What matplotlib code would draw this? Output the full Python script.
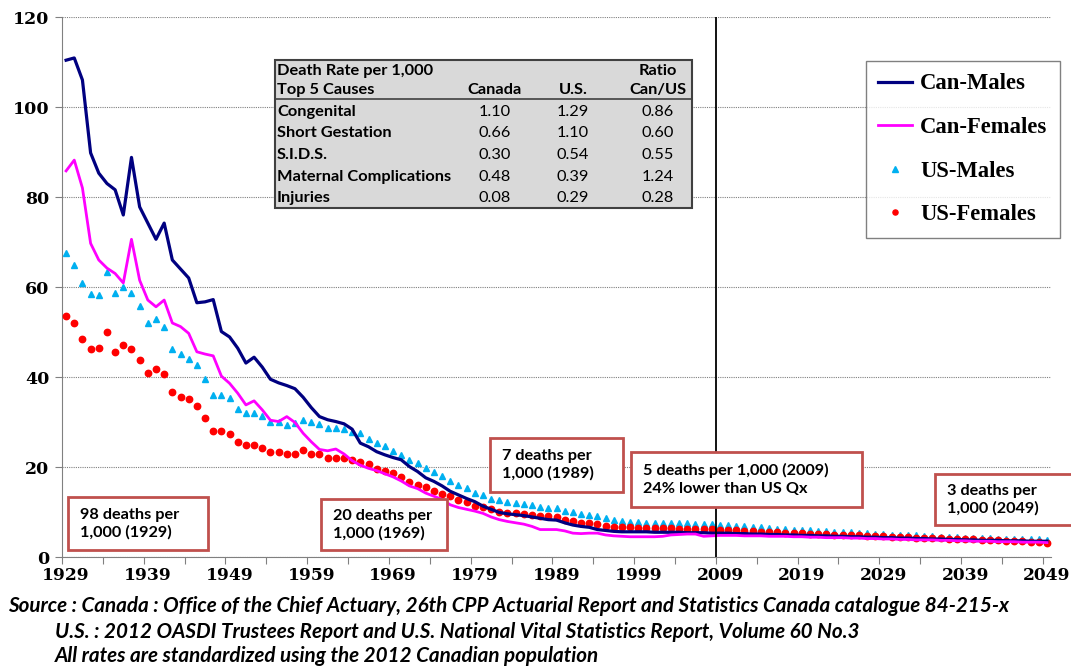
import numpy as np
import matplotlib
matplotlib.use("Agg")
import matplotlib.pyplot as plt
from matplotlib.patches import Rectangle
from matplotlib import font_manager

W, H = 1071, 667

years = list(range(1929, 2050))

can_males = [110.4, 110.9, 106.0, 89.8, 85.3, 83.0, 81.6, 76.0, 88.8, 77.8,
             74.2, 70.6, 74.2, 66.0, 64.0, 62.0, 56.5, 56.7, 57.2, 50.1,
             48.9, 46.4, 43.1, 44.4, 42.2, 39.5, 38.7, 38.1, 37.4, 35.5,
             33.2, 31.2, 30.5, 30.1, 29.6, 28.4, 25.3, 24.5, 23.4, 22.7,
             22.1, 21.6, 20.1, 19.0, 17.6, 16.8, 15.8, 14.6, 13.8, 13.0,
             12.3, 11.3, 10.6, 9.9, 9.6, 9.4, 9.2, 8.9, 8.6, 8.3,
             8.2, 7.6, 7.1, 6.8, 6.6, 6.1, 5.9, 5.7, 5.6, 5.6,
             5.6, 5.6, 5.5, 5.5, 5.5, 5.5, 5.4, 5.4, 5.4, 5.3,
             5.3, 5.3, 5.2, 5.2, 5.1, 5.1, 5.0, 5.0, 4.9, 4.9,
             4.8, 4.8, 4.7, 4.7, 4.6, 4.6, 4.5, 4.5, 4.4, 4.4,
             4.3, 4.3, 4.2, 4.2, 4.1, 4.1, 4.0, 4.0, 3.9, 3.9,
             3.8, 3.8, 3.7, 3.7, 3.7, 3.6, 3.6, 3.6, 3.5, 3.5,
             3.5]

can_females = [85.8, 88.2, 82.0, 69.7, 66.0, 64.2, 63.0, 60.9, 70.6, 61.5,
               57.1, 55.6, 57.1, 52.0, 51.2, 49.7, 45.6, 45.1, 44.7, 40.2,
               38.6, 36.4, 33.8, 34.7, 32.7, 30.4, 30.1, 31.2, 29.9, 27.5,
               25.6, 23.9, 23.6, 24.0, 22.9, 21.4, 20.4, 19.7, 19.2, 18.5,
               17.8, 16.9, 15.8, 15.2, 14.2, 13.5, 12.8, 11.6, 11.0, 10.6,
               10.2, 9.7, 8.9, 8.3, 7.9, 7.6, 7.3, 6.8, 6.1, 6.1,
               6.1, 5.8, 5.3, 5.2, 5.3, 5.3, 4.9, 4.7, 4.6, 4.5,
               4.5, 4.5, 4.5, 4.6, 4.9, 5.0, 5.1, 5.1, 4.6, 4.7,
               4.8, 4.8, 4.8, 4.7, 4.7, 4.7, 4.6, 4.6, 4.6, 4.5,
               4.5, 4.4, 4.4, 4.3, 4.3, 4.3, 4.2, 4.2, 4.1, 4.1,
               4.0, 4.0, 3.9, 3.9, 3.8, 3.8, 3.8, 3.7, 3.7, 3.6,
               3.6, 3.5, 3.5, 3.5, 3.4, 3.4, 3.4, 3.3, 3.3, 3.3,
               3.2]

us_males = [67.5, 65.0, 61.0, 58.4, 58.2, 63.4, 58.6, 60.1, 58.6, 55.8,
            51.9, 53.0, 51.2, 46.2, 45.1, 44.1, 42.7, 39.6, 36.0, 36.0,
            35.3, 33.0, 32.1, 32.1, 31.3, 30.1, 29.9, 29.3, 29.7, 30.4,
            29.9, 29.5, 28.6, 28.6, 28.5, 27.8, 27.5, 26.2, 25.3, 24.6,
            23.5, 22.6, 21.5, 20.8, 19.8, 18.8, 17.9, 16.9, 15.9, 15.3,
            14.3, 13.7, 13.0, 12.6, 12.2, 11.9, 11.8, 11.5, 11.2, 11.0,
            10.8, 10.3, 10.0, 9.6, 9.4, 9.1, 8.6, 8.2, 7.9, 7.8,
            7.7, 7.6, 7.6, 7.6, 7.5, 7.5, 7.5, 7.4, 7.4, 7.3,
            7.2, 7.1, 6.9, 6.8, 6.7, 6.6, 6.5, 6.3, 6.2, 6.1,
            6.0, 5.9, 5.8, 5.7, 5.6, 5.6, 5.5, 5.4, 5.3, 5.2,
            5.1, 5.0, 4.9, 4.9, 4.8, 4.7, 4.6, 4.5, 4.5, 4.4,
            4.3, 4.3, 4.2, 4.2, 4.1, 4.1, 4.0, 4.0, 3.9, 3.9,
            3.8]

us_females = [53.6, 51.9, 48.4, 46.3, 46.4, 50.1, 45.6, 47.1, 46.2, 43.8,
              40.8, 41.7, 40.6, 36.7, 35.5, 35.2, 33.6, 31.0, 28.0, 28.0,
              27.4, 25.5, 24.9, 25.0, 24.3, 23.3, 23.3, 22.8, 23.0, 23.8,
              23.0, 22.8, 22.1, 22.1, 21.9, 21.6, 21.2, 20.6, 19.6, 19.1,
              18.6, 17.7, 16.7, 16.0, 15.5, 14.7, 14.1, 13.5, 12.7, 12.3,
              11.4, 11.1, 10.6, 10.1, 9.8, 9.7, 9.6, 9.3, 9.1, 9.1,
              9.0, 8.3, 7.9, 7.6, 7.5, 7.4, 6.9, 6.7, 6.6, 6.6,
              6.5, 6.4, 6.4, 6.4, 6.4, 6.3, 6.3, 6.3, 6.2, 6.2,
              6.1, 6.0, 5.9, 5.8, 5.7, 5.6, 5.6, 5.5, 5.4, 5.3,
              5.3, 5.2, 5.1, 5.1, 5.0, 4.9, 4.9, 4.8, 4.7, 4.7,
              4.6, 4.5, 4.5, 4.4, 4.3, 4.3, 4.2, 4.2, 4.1, 4.0,
              4.0, 3.9, 3.8, 3.8, 3.7, 3.6, 3.6, 3.5, 3.4, 3.3,
              3.2]

label_years = [1929, 1939, 1949, 1959, 1969, 1979, 1989, 1999, 2009, 2019, 2029, 2039, 2049]
y_ticks = [0, 20, 40, 60, 80, 100, 120]

# inset table
causes = ["Congenital", "Short Gestation", "S.I.D.S.", "Maternal Complications", "Injuries"]
canada_rate = ["1.10", "0.66", "0.30", "0.48", "0.08"]
us_rate = ["1.29", "1.10", "0.54", "0.39", "0.29"]
ratio = ["0.86", "0.60", "0.55", "1.24", "0.28"]

notes = [
    ("98 deaths per\n1,000 (1929)", (68, 497, 208, 550)),
    ("20 deaths per\n1,000 (1969)", (321, 499, 447, 550)),
    ("7 deaths per\n1,000 (1989)", (490, 438, 623, 492)),
    ("5 deaths per 1,000 (2009)\n24% lower than US Qx", (631, 452, 862, 507)),
    ("3 deaths per\n1,000 (2049)", (935, 474, 1080, 525)),
]

source_lines = [
    "Source : Canada : Office of the Chief Actuary, 26th CPP Actuarial Report and Statistics Canada catalogue 84-215-x",
    "U.S. : 2012 OASDI Trustees Report and U.S. National Vital Statistics Report, Volume 60 No.3",
    "All rates are standardized using the 2012 Canadian population",
]

names = {f.name for f in font_manager.fontManager.ttflist}
serif = "Liberation Serif" if "Liberation Serif" in names else "DejaVu Serif"
tickfont = "DejaVu Serif"
sans = "Lato" if "Lato" in names else "DejaVu Sans"


def fx(x):
    return x / W


def fy(y):
    return 1 - y / H


fig = plt.figure(figsize=(W / 100, H / 100), dpi=100)
ax = fig.add_axes([fx(62), fy(557), fx(1051) - fx(62), fy(17) - fy(557)])

ax.plot(years, can_males, color="#000080", lw=2.3, label="Can-Males", zorder=4)
ax.plot(years, can_females, color="#ff00ff", lw=2.0, label="Can-Females", zorder=4)
ax.plot(years, us_males, ls="none", marker="^", ms=5, color="#00b0f0", label="US-Males", zorder=3)
ax.plot(years, us_females, ls="none", marker="o", ms=4.6, color="#ff0000", label="US-Females", zorder=3)

ax.axvline(2008.5, color="black", lw=1.3, zorder=5)

ax.set_xlim(1928.5, 2049.5)
ax.set_ylim(0, 120)
ax.set_yticks(y_ticks)
ax.set_yticklabels([str(v) for v in y_ticks], fontfamily=tickfont, fontweight="bold", fontsize=12.5)
ax.set_xticks(np.arange(1928.5, 2049, 5))
ax.set_xticklabels([])
ax.set_xticks(label_years, minor=True)
ax.set_xticklabels([str(v) for v in label_years], minor=True,
                   fontfamily=tickfont, fontweight="bold", fontsize=12.3)
ax.tick_params(axis="x", which="major", direction="out", length=5, color="#808080")
ax.tick_params(axis="x", which="minor", length=0, pad=7)
ax.tick_params(axis="y", direction="out", length=5, color="#808080", pad=4)

ax.grid(axis="y", color="#808080", ls=(0, (1, 1)), lw=0.8)
ax.set_axisbelow(True)
for s in ["top", "right"]:
    ax.spines[s].set_visible(False)
for s in ["left", "bottom"]:
    ax.spines[s].set_color("#808080")

leg = ax.legend(loc="upper left", bbox_to_anchor=(fx(866), fy(61)), bbox_transform=fig.transFigure,
                borderaxespad=0, frameon=True, fancybox=False, edgecolor="#606060",
                prop={"family": serif, "weight": "bold", "size": 16.3},
                handlelength=1.5, handletextpad=0.35, labelspacing=1.0,
                borderpad=0.55, markerscale=0.8)
leg.get_frame().set_linewidth(1.0)

# inset table
tx0, ty0, tx1, ty1 = 275, 60, 692, 208
fig.patches.append(Rectangle((fx(tx0), fy(ty1)), fx(tx1) - fx(tx0), fy(ty0) - fy(ty1),
                             transform=fig.transFigure, facecolor="#d9d9d9",
                             edgecolor="#404040", lw=1.5, zorder=6))
fig.add_artist(plt.Line2D([fx(tx0), fx(tx1)], [fy(99), fy(99)], color="#404040", lw=1.2, zorder=7))
tfont = dict(family=sans, size=11.8, zorder=8, va="center")
col_x = [495, 573, 658]
fig.text(fx(277), fy(71), "Death Rate per 1,000", fontweight="bold", **tfont)
fig.text(fx(277), fy(90), "Top 5 Causes", fontweight="bold", **tfont)
fig.text(fx(col_x[0]), fy(90), "Canada", fontweight="bold", ha="center", **tfont)
fig.text(fx(col_x[1]), fy(90), "U.S.", fontweight="bold", ha="center", **tfont)
fig.text(fx(col_x[2]), fy(71), "Ratio", fontweight="bold", ha="center", **tfont)
fig.text(fx(col_x[2]), fy(90), "Can/US", fontweight="bold", ha="center", **tfont)
row_y = [112, 133, 155, 177, 198]
for i in range(len(causes)):
    fig.text(fx(277), fy(row_y[i]), causes[i], fontweight="bold", **tfont)
    fig.text(fx(col_x[0]), fy(row_y[i]), canada_rate[i], ha="center", **tfont)
    fig.text(fx(col_x[1]), fy(row_y[i]), us_rate[i], ha="center", **tfont)
    fig.text(fx(col_x[2]), fy(row_y[i]), ratio[i], ha="center", **tfont)

# annotation boxes
for txt, (x0, y0, x1, y1) in notes:
    fig.patches.append(Rectangle((fx(x0), fy(y1)), fx(x1) - fx(x0), fy(y0) - fy(y1),
                                 transform=fig.transFigure, facecolor="white",
                                 edgecolor="#c0504d", lw=2.0, zorder=6))
    fig.text(fx(x0 + 12), fy((y0 + y1) / 2), txt, family=sans, fontweight="bold", fontsize=11.7,
             va="center", ha="left", linespacing=1.3, zorder=8)

# source
src = dict(family=sans, fontweight="bold", style="italic", fontsize=14.9, va="center")
fig.text(fx(8), fy(606), source_lines[0], **src)
fig.text(fx(55), fy(632), source_lines[1], **src)
fig.text(fx(55), fy(656), source_lines[2], **src)

fig.savefig("out.png", dpi=100)
